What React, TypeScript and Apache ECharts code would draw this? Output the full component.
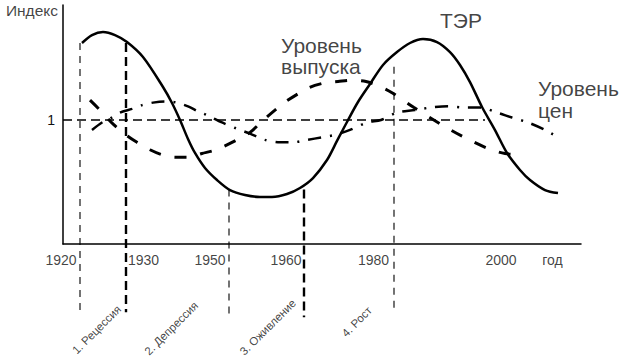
import React, { useEffect, useRef } from 'react';
import * as echarts from 'echarts';

// x: schematic time position (axis units), y: index (1 = baseline)
const terData: [number, number][] = [
  [19, 1.621], [29, 1.685], [40, 1.71], [52, 1.685], [64, 1.629], [80, 1.508], [100, 1.266],
  [109, 1.137], [117, 1.0], [125, 0.847], [132, 0.734], [142, 0.613], [154, 0.516],
  [167, 0.435], [182, 0.395], [197, 0.379], [209, 0.379], [224, 0.403], [237, 0.452],
  [250, 0.532], [264, 0.677], [274, 0.831], [284, 0.984], [295, 1.145], [307, 1.29],
  [320, 1.444], [334, 1.548], [347, 1.621], [360, 1.653], [374, 1.629], [387, 1.548],
  [397, 1.444], [407, 1.306], [419, 1.105], [432, 0.919], [444, 0.734], [457, 0.597],
  [467, 0.516], [482, 0.435], [495, 0.411],
];

const outputData: [number, number][] = [
  [27, 1.16], [37, 1.08], [51, 0.96], [63, 0.88], [74, 0.82], [87, 0.76], [99, 0.72],
  [112, 0.7], [125, 0.7], [139, 0.73], [153, 0.76], [174, 0.84], [187, 0.9], [199, 0.99],
  [212, 1.08], [223, 1.15], [246, 1.26], [262, 1.3], [275, 1.31], [287, 1.32], [303, 1.31],
  [317, 1.27], [329, 1.22], [351, 1.1], [377, 0.97], [399, 0.87], [425, 0.77], [442, 0.73],
  [459, 0.72],
];

const priceData: [number, number][] = [
  [29, 0.92], [39, 0.98], [47, 1.01], [57, 1.06], [69, 1.09], [79, 1.12], [90, 1.14],
  [102, 1.15], [114, 1.14], [125, 1.11], [135, 1.07], [144, 1.04], [159, 0.98], [174, 0.93],
  [187, 0.89], [202, 0.84], [217, 0.82], [230, 0.82], [244, 0.84], [259, 0.86], [272, 0.88],
  [287, 0.92], [304, 0.98], [318, 1.0], [334, 1.06], [352, 1.08], [367, 1.1], [385, 1.11],
  [402, 1.1], [417, 1.1], [434, 1.06], [449, 1.02], [465, 0.98], [482, 0.92], [495, 0.86],
];

const baseline: [number, number][] = [[0, 1], [422, 1]];

// phase boundaries
const phaseX = [17, 63, 166, 241, 331];
const phaseTop = [1.62, 1.62, 0.44, 0.44, 1.43];
const phaseBottom = [-0.55, -0.55, -0.59, -0.59, -0.55];
const phaseThick = [false, true, false, true, false];

// year tick labels (centres)
const yearLabels = ['1920', '1930', '1950', '1960', '1980', '2000', 'год'];
const yearPos = [-2, 80.5, 147, 223, 310.5, 438, 489.5];
const yearLevel = -0.13;

// phase names (anchored at their upper-right end)
const phaseNames = ['1. Рецессия', '2. Депрессия', '3. Оживление', '4. Рост'];
const phaseNameX = [56, 133, 231, 307];
const phaseNameY = [-0.51, -0.48, -0.46, -0.52];

const FONT = "'Liberation Sans', Arial, sans-serif";

export default function App() {
  const ref = useRef<HTMLDivElement>(null);
  useEffect(() => {
    const chart = echarts.init(ref.current!, null, { renderer: 'svg' });

    const boundarySeries = phaseX.map((x, i) => ({
      type: 'line',
      name: 'phase' + i,
      data: [[x, phaseTop[i]], [x, phaseBottom[i]]],
      symbol: 'none',
      clip: false,
      silent: true,
      lineStyle: phaseThick[i]
        ? { color: '#000', width: 2.4, type: [9, 5] }
        : { color: '#000', width: 1.1, type: [7, 6] },
    }));

    const textItems: any[] = [];
    yearLabels.forEach((t, i) => {
      textItems.push({
        name: t,
        value: [yearPos[i], yearLevel],
        label: { fontSize: 14, align: 'center', verticalAlign: 'middle' },
      });
    });
    phaseNames.forEach((t, i) => {
      textItems.push({
        name: t,
        value: [phaseNameX[i], phaseNameY[i]],
        label: { fontSize: 11.5, align: 'right', verticalAlign: 'middle', rotate: 45 },
      });
    });
    textItems.push({
      name: 'Индекс',
      value: [-5, 1.88],
      label: { fontSize: 15.5, align: 'right', verticalAlign: 'middle' },
    });
    textItems.push({
      name: 'ТЭР',
      value: [398, 1.806],
      label: { fontSize: 21, align: 'center', verticalAlign: 'middle' },
    });
    textItems.push({
      name: 'Уровень\nвыпуска',
      value: [218, 1.52],
      label: { fontSize: 21, lineHeight: 21, align: 'left', verticalAlign: 'middle' },
    });
    textItems.push({
      name: 'Уровень\nцен',
      value: [475, 1.165],
      label: { fontSize: 21, lineHeight: 22, align: 'left', verticalAlign: 'middle' },
    });

    chart.setOption({
      animation: false,
      backgroundColor: '#fff',
      textStyle: { fontFamily: FONT },
      grid: { left: 63, right: 45, top: 5, bottom: 118 },
      xAxis: {
        type: 'value',
        min: 0,
        max: 518,
        axisLine: { show: true, onZero: false, lineStyle: { color: '#000', width: 1.5 } },
        axisTick: { show: false },
        axisLabel: { show: false },
        splitLine: { show: false },
      },
      yAxis: {
        type: 'value',
        min: 0,
        max: 239 / 124,
        interval: 1,
        axisLine: { show: true, lineStyle: { color: '#000', width: 1.5 } },
        axisTick: { show: false },
        splitLine: { show: false },
        axisLabel: {
          margin: 8,
          fontSize: 14,
          color: '#111',
          fontFamily: FONT,
          formatter: (v: number) => (v === 1 ? '1' : ''),
        },
      },
      series: [
        {
          type: 'line',
          name: 'baseline',
          data: baseline,
          symbol: 'none',
          silent: true,
          lineStyle: { color: '#000', width: 1.5, type: [9, 5] },
        },
        ...boundarySeries,
        {
          type: 'line',
          name: 'ТЭР',
          data: terData,
          smooth: 0.3,
          symbol: 'none',
          clip: false,
          lineStyle: { color: '#000', width: 2.5, type: 'solid' },
        },
        {
          type: 'line',
          name: 'Уровень выпуска',
          data: outputData,
          smooth: 0.3,
          symbol: 'none',
          clip: false,
          lineStyle: { color: '#000', width: 3, type: [12, 14] },
        },
        {
          type: 'line',
          name: 'Уровень цен',
          data: priceData,
          smooth: 0.3,
          symbol: 'none',
          clip: false,
          lineStyle: { color: '#000', width: 2.5, type: [13, 9, 2, 9] },
        },
        {
          type: 'scatter',
          name: 'texts',
          data: textItems,
          symbolSize: 0,
          clip: false,
          silent: true,
          label: {
            show: true,
            position: 'inside',
            formatter: '{b}',
            color: '#111',
            fontFamily: FONT,
          },
        },
      ],
    });
    return () => chart.dispose();
  }, []);
  return (
    <div
      ref={ref}
      style={{ position: 'absolute', left: 0, top: 0, width: 626, height: 362, background: '#fff' }}
    />
  );
}
